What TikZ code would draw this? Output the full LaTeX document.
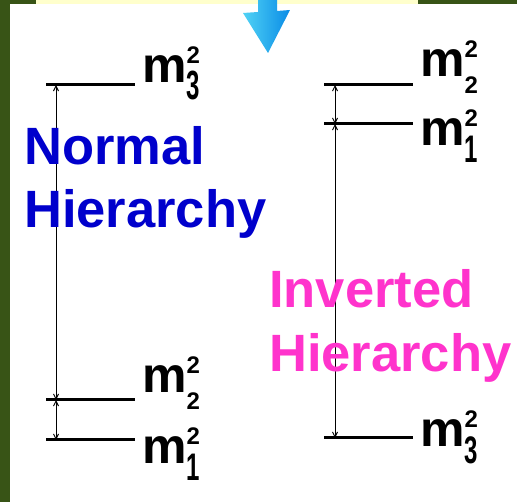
\documentclass[tikz,border=0pt]{standalone}
\usepackage{fontspec}
\setmainfont{Liberation Sans}
\usepackage{graphicx}
\usetikzlibrary{arrows.meta,positioning}

\definecolor{slidegreen}{RGB}{56,84,22}
\definecolor{slideyellow}{RGB}{255,255,204}
\definecolor{nhblue}{RGB}{0,0,204}
\definecolor{ihpink}{RGB}{255,51,204}
\definecolor{arrowcyan}{RGB}{80,210,245}
\definecolor{arrowblue}{RGB}{10,140,230}

% m^2 with stacked indices, optional vertical stretch of the subscript
\newcommand{\digsize}{\bfseries\fontsize{24}{24}\selectfont}
\newcommand{\msq}[2][1]{m\rlap{\raisebox{19pt}{\digsize 2}}\raisebox{-17pt}{\scalebox{1}[#1]{\digsize #2}}}

\tikzset{
  hier/.style={font=\bfseries\fontsize{52.5}{52.5}\selectfont, anchor=base west, inner sep=0pt},
  masslab/.style={font=\bfseries\fontsize{50}{50}\selectfont, anchor=base west, inner sep=0pt},
  levelline/.style={line width=3pt},
  gap/.style={{Straight Barb[length=5pt,width=5pt]}-{Straight Barb[length=5pt,width=5pt]}, line width=1pt}
}

\begin{document}
\begin{tikzpicture}[x=1pt,y=-1pt]
\useasboundingbox (0,0) rectangle (517,502);
% slide background
\fill[white] (0,0) rectangle (517,502);
\fill[slidegreen] (0,0) rectangle (10,502);
\fill[slidegreen] (0,0) rectangle (517,4);
\fill[slideyellow] (36,0) rectangle (418,4);
% blue arrow
\shade[left color=arrowcyan, right color=arrowblue]
  (258,0) -- (277,0) -- (277,11) -- (290,10) -- (268,53) -- (243,13) -- (258,12) -- cycle;

% normal hierarchy
\coordinate (n3) at (56,85);
\coordinate (n2) at (56,400);
\coordinate (n1) at (56,440);
\draw[levelline] (46,85) -- (135,85);
\draw[levelline] (46,400) -- (135,400);
\draw[levelline] (46,440) -- (135,440);
\draw[gap] (n2) -- (n3);
\draw[gap] (n1) -- (n2);
\node[masslab] (nm3) at (142,83) {\msq[1.7]{3}};
\node[masslab] (nm2) at (142,393) {\msq{2}};
\node[masslab] (nm1) at (142,464) {\msq[1.6]{1}};
\node[hier, text=nhblue] (normal) at (24,165) {Normal};
\node[hier, text=nhblue] (nhier) at (24,228) {Hierarchy};

% inverted hierarchy
\coordinate (i2) at (335,85);
\coordinate (i1) at (335,124);
\coordinate (i3) at (335,438);
\draw[levelline] (324,85) -- (413,85);
\draw[levelline] (324,124) -- (413,124);
\draw[levelline] (324,438) -- (413,438);
\draw[gap] (i1) -- (i2);
\draw[gap] (i3) -- (i1);
\node[masslab] (im2) at (420,77) {\msq{2}};
\node[masslab] (im1) at (420,146) {\msq[1.6]{1}};
\node[masslab] (im3) at (420,447) {\msq[1.6]{3}};
\node[hier, text=ihpink] (inverted) at (269,308) {Inverted};
\node[hier, text=ihpink] (ihier) at (269,372) {Hierarchy};
\end{tikzpicture}
\end{document}
